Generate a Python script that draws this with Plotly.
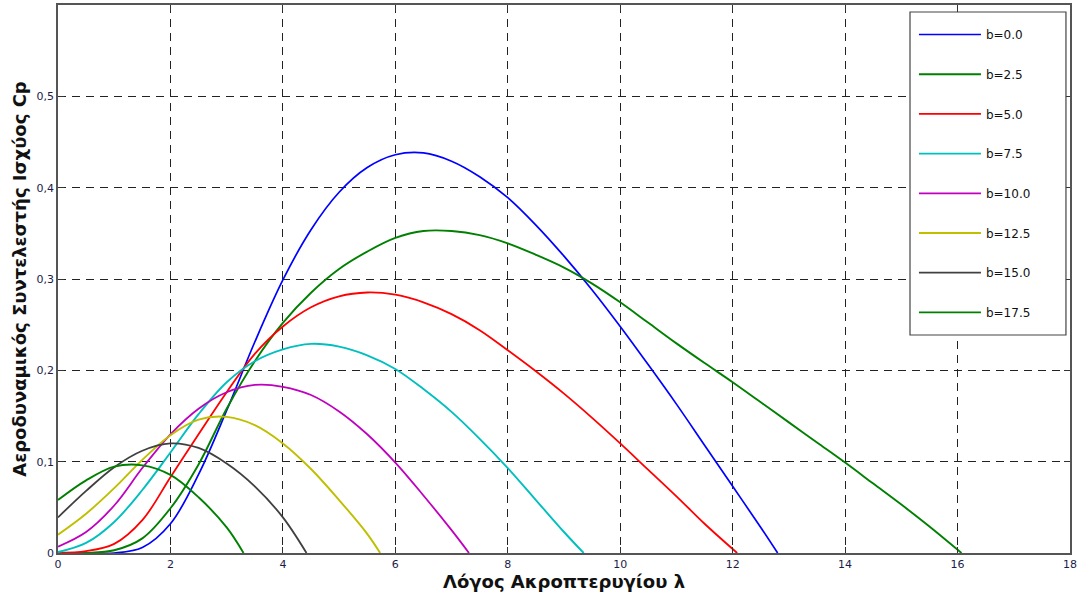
import plotly.graph_objects as go

# Tip-speed ratio (lambda) samples and power coefficient Cp for each pitch angle b
lam_b00 = [0, 0.5, 1.0, 1.5, 2.0, 2.5, 3.0, 3.5, 4.0, 4.5, 5.0, 5.5, 6.0, 6.5, 7.0, 7.5, 8.0,
           8.5, 9.0, 9.5, 10.0, 10.5, 11.0, 11.5, 12.0, 12.5, 12.8]
cp_b00 = [0.0, 0.0, 0.0, 0.006, 0.032, 0.086, 0.156, 0.231, 0.299, 0.354, 0.395, 0.422, 0.436,
          0.438, 0.429, 0.412, 0.389, 0.359, 0.325, 0.288, 0.248, 0.206, 0.163, 0.118, 0.073,
          0.028, 0.0]

lam_b25 = [0, 0.5, 1.0, 1.5, 2.0, 2.5, 3.0, 3.5, 4.0, 4.5, 5.0, 5.5, 6.0, 6.5, 7.0, 7.5, 8.0,
           8.5, 9.0, 9.5, 10.0, 10.5, 11.0, 11.5, 12.0, 12.5, 13.0, 13.5, 14.0, 14.5, 15.0,
           15.5, 16.07]
cp_b25 = [0.0, 0.0, 0.003, 0.016, 0.049, 0.097, 0.158, 0.210, 0.252, 0.285, 0.311, 0.330, 0.345,
          0.3525, 0.3525, 0.348, 0.339, 0.3265, 0.3125, 0.295, 0.2745, 0.252, 0.2295, 0.208,
          0.187, 0.165, 0.143, 0.121, 0.099, 0.076, 0.053, 0.029, 0.0]

lam_b50 = [0, 0.5, 1.0, 1.5, 2.0, 2.5, 3.0, 3.5, 4.0, 4.5, 5.0, 5.5, 6.0, 6.5, 7.0, 7.5, 8.0,
           8.5, 9.0, 9.5, 10.0, 10.5, 11.0, 11.5, 12.08]
cp_b50 = [0.0, 0.002, 0.010, 0.036, 0.083, 0.130, 0.176, 0.218, 0.248, 0.269, 0.281, 0.2852,
          0.2828, 0.2745, 0.2615, 0.244, 0.222, 0.199, 0.1745, 0.148, 0.120, 0.091, 0.062, 0.032,
          0.0]

lam_b75 = [0, 0.5, 1.0, 1.5, 2.0, 2.5, 3.0, 3.5, 4.0, 4.5, 5.0, 5.5, 6.0, 6.5, 7.0, 7.5, 8.0,
           8.5, 9.0, 9.35]
cp_b75 = [0.001, 0.011, 0.034, 0.069, 0.110, 0.152, 0.187, 0.210, 0.223, 0.229, 0.226, 0.2165,
          0.2015, 0.1795, 0.1545, 0.125, 0.093, 0.058, 0.023, 0.0]

lam_b100 = [0, 0.5, 1.0, 1.5, 2.0, 2.5, 3.0, 3.5, 4.0, 4.5, 5.0, 5.5, 6.0, 6.5, 7.0, 7.31]
cp_b100 = [0.007, 0.023, 0.052, 0.093, 0.130, 0.158, 0.176, 0.184, 0.182, 0.173, 0.155, 0.130,
           0.099, 0.063, 0.025, 0.0]

lam_b125 = [0, 0.5, 1.0, 1.5, 2.0, 2.5, 3.0, 3.5, 4.0, 4.5, 5.0, 5.5, 5.73]
cp_b125 = [0.020, 0.043, 0.071, 0.102, 0.129, 0.146, 0.149, 0.140, 0.120, 0.092, 0.058, 0.021, 0.0]

lam_b150 = [0, 0.5, 1.0, 1.5, 2.0, 2.5, 3.0, 3.5, 4.0, 4.42]
cp_b150 = [0.039, 0.068, 0.094, 0.112, 0.120, 0.115, 0.098, 0.073, 0.039, 0.0]

lam_b175 = [0, 0.5, 1.0, 1.5, 2.0, 2.5, 3.0, 3.3]
cp_b175 = [0.058, 0.0795, 0.0945, 0.096, 0.0855, 0.061, 0.028, 0.0]

series_names = ["b=0.0", "b=2.5", "b=5.0", "b=7.5", "b=10.0", "b=12.5", "b=15.0", "b=17.5"]
series_colors = ["#0000FF", "#008000", "#FF0000", "#00BFBF", "#BF00BF", "#BFBF00", "#404040", "#008000"]
series_widths = [1.7, 1.9, 1.8, 1.9, 1.8, 1.9, 1.8, 1.9]

x_ticks = [0, 2, 4, 6, 8, 10, 12, 14, 16, 18]
y_ticks = [0, 0.1, 0.2, 0.3, 0.4, 0.5]
y_tick_text = ["0", "0,1", "0,2", "0,3", "0,4", "0,5"]

x_title = "Λόγος Ακροπτερυγίου λ"
y_title = "Αεροδυναμικός Συντελεστής Ισχύος Cp"

lams = [lam_b00, lam_b25, lam_b50, lam_b75, lam_b100, lam_b125, lam_b150, lam_b175]
cps = [cp_b00, cp_b25, cp_b50, cp_b75, cp_b100, cp_b125, cp_b150, cp_b175]

fig = go.Figure()
for i, (lx, cy, name, color, w) in enumerate(zip(lams, cps, series_names, series_colors, series_widths)):
    fig.add_trace(go.Scatter(
        x=lx, y=cy, mode="lines", name=name, legendgroup=f"g{i}",
        line=dict(color=color, width=w, shape="spline", smoothing=1.0),
    ))

axis_font = dict(family="DejaVu Sans", size=11, color="#1c1c4a")
title_font = dict(family="DejaVu Sans", size=18, color="#111111", weight="bold")

# white frame behind the legend entries (covers the grid in that corner)
fig.add_shape(
    type="rect", xref="paper", yref="paper",
    x0=0.8419, x1=0.9960, y0=0.3978, y1=0.9872,
    line=dict(color="#444444", width=1.2), fillcolor="white", layer="above",
)

fig.update_layout(
    width=1078, height=601,
    margin=dict(l=58, r=8, t=5, b=48),
    paper_bgcolor="white", plot_bgcolor="white",
    separators=",.",
    showlegend=True,
    legend=dict(
        x=0.8458, y=0.9726, xanchor="left", yanchor="top",
        bgcolor="rgba(0,0,0,0)", borderwidth=0,
        font=dict(family="DejaVu Sans", size=12, color="#111111"),
        tracegroupgap=20.7, itemwidth=62,
    ),
    xaxis=dict(
        range=[0, 18], tickvals=x_ticks, tickfont=axis_font,
        showgrid=True, gridcolor="#222222", gridwidth=1, griddash="8px,6px",
        showline=True, linecolor="#555555", linewidth=1.5, mirror="ticks",
        ticks="inside", ticklen=6, tickcolor="#333333", zeroline=False,
        title=dict(text=x_title, font=title_font, standoff=5), automargin=False,
    ),
    yaxis=dict(
        range=[0, 0.6], tickvals=y_ticks, ticktext=y_tick_text, tickfont=axis_font,
        showgrid=True, gridcolor="#222222", gridwidth=1, griddash="8px,6px",
        showline=True, linecolor="#555555", linewidth=1.5, mirror="ticks",
        ticks="inside", ticklen=6, tickcolor="#333333", zeroline=False,
        title=dict(text=y_title, font=title_font, standoff=5), automargin=False,
    ),
)

fig.write_html("out.html")
